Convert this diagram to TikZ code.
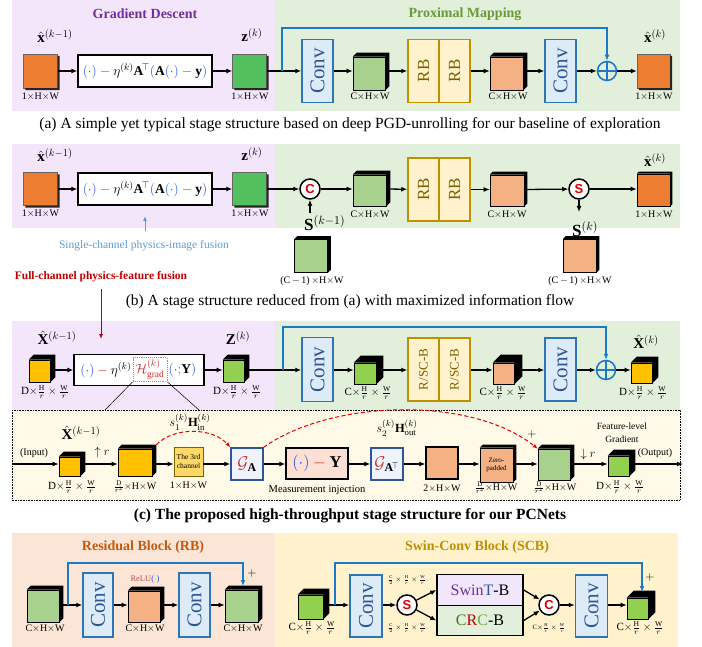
\RequirePackage{fix-cm}
\documentclass[tikz,border=0pt]{standalone}
\usepackage{amsmath,amssymb}
\usepackage{fontspec}
\setmainfont{Liberation Serif}
\setsansfont{Liberation Sans}
\usepackage{graphicx}
\usetikzlibrary{arrows.meta}
\definecolor{pbg}{HTML}{F3E6FA}
\definecolor{gbg}{HTML}{E2EFDA}
\definecolor{cbg}{HTML}{FFF9E8}
\definecolor{rbg}{HTML}{FBE5D6}
\definecolor{sbg}{HTML}{FFF2CC}
\definecolor{corange}{HTML}{ED7D31}
\definecolor{cgreen}{HTML}{52C05C}
\definecolor{lgreen}{HTML}{A9D18E}
\definecolor{bgreen}{HTML}{92D050}
\definecolor{salmon}{HTML}{F4B183}
\definecolor{gold}{HTML}{FFC000}
\definecolor{convf}{HTML}{DDEBF7}
\definecolor{convb}{HTML}{2E75B6}
\definecolor{convt}{HTML}{2F5597}
\definecolor{rbf}{HTML}{FFF2CC}
\definecolor{rbb}{HTML}{BF9000}
\definecolor{rbt}{HTML}{7F6000}
\definecolor{skipb}{HTML}{1A7AC8}
\definecolor{fblue}{HTML}{2255EE}
\definecolor{fred}{HTML}{D0302F}
\definecolor{lblue}{HTML}{5B9BD5}
\definecolor{dred}{HTML}{C00000}
\definecolor{tpurple}{HTML}{7030A0}
\definecolor{tgreen}{HTML}{6A9A3A}
\definecolor{torange}{HTML}{C55A11}
\definecolor{tgold}{HTML}{BF9000}
\definecolor{gaf}{HTML}{EEF2FA}
\definecolor{gab}{HTML}{2F5597}
\definecolor{mfill}{HTML}{FBE0D3}
\definecolor{thirdf}{HTML}{FFD966}
\definecolor{swinf}{HTML}{F2E6FA}
\definecolor{crcf}{HTML}{E2EFDA}
\definecolor{crcA}{HTML}{3A7D22}
\definecolor{crcC}{HTML}{70AD47}
\definecolor{relured}{HTML}{C0504D}
\newcommand\mkcube[2]{\fill[black] (#1.north west) -- ([shift={(#2,-#2)}]#1.north west) -- ([shift={(#2,-#2)}]#1.north east) -- ([shift={(#2,-#2)}]#1.south east) -- (#1.south east) -- (#1.north east) -- cycle;}
\newcommand\mkshadow[1]{\fill[black!85] ([shift={(0,2)}]#1.north east) -- ([shift={(2,2)}]#1.north east) -- ([shift={(2,2)}]#1.south east) -- ([shift={(2,2)}]#1.south west) -- ([shift={(2,0)}]#1.south west) -- (#1.south east) -- cycle;}
\newcommand\fgradA{${\color{fblue}(\cdot)}\mathbin{\color{fred}-}\eta^{(k)}\mathbf{A}^{\!\top}{\color{fblue}(}\mathbf{A}{\color{fblue}(\cdot)}\mathbin{\color{fred}-}\mathbf{y}{\color{fblue})}$}
\newcommand\dimA{1$\times$H$\times$W}
\newcommand\dimC{C$\times$H$\times$W}
\newcommand\dimF[1]{#1$\times\frac{\mathrm{H}}{r}\times\frac{\mathrm{W}}{r}$}
\newcommand\dimR{$\frac{\mathrm{D}}{r^2}$$\times$H$\times$W}
\tikzset{
 arr/.style={-{Latex[length=6pt,width=5pt]}, line width=1.3pt},
 ln/.style={line width=1.3pt},
 skipl/.style={draw=skipb, line width=1.6pt, -{Latex[length=6pt,width=5pt]}},
 convbox/.style={draw=convb, fill=convf, line width=1.5pt, minimum width=31pt, minimum height=63pt, inner sep=0pt, text=convt, font=\fontsize{21}{21}\selectfont},
 rbbox/.style={draw=rbb, fill=rbf, line width=1.5pt, minimum width=31pt, minimum height=63pt, inner sep=0pt, text=rbt, font=\fontsize{17}{17}\selectfont},
 fmbox/.style={draw=black, fill=white, line width=1.3pt, minimum width=134pt, minimum height=32pt, inner sep=0pt, font=\fontsize{13.5}{15}\selectfont},
 ftext/.style={inner sep=0pt, font=\fontsize{13.5}{15}\selectfont},
 hdot/.style={draw=corange, densely dotted, line width=0.9pt, minimum width=34pt, minimum height=24pt, inner sep=1pt, font=\fontsize{13.5}{15}\selectfont},
 sq/.style={draw=black!60, line width=0.4pt, fill=#1, inner sep=0pt},
 cube/.style={draw=black, line width=0.6pt, fill=#1, inner sep=0pt},
 lab/.style={inner sep=0pt, font=\fontsize{15}{17}\selectfont},
 slab/.style={inner sep=0pt, font=\fontsize{17}{19}\selectfont},
 dim/.style={inner sep=0pt, font=\fontsize{10}{11}\selectfont},
 fdim/.style={inner sep=0pt, font=\fontsize{11}{12}\selectfont},
 sdim/.style={inner sep=0pt, font=\fontsize{6.5}{7}\selectfont},
 ttl/.style={inner sep=0pt, font=\bfseries\fontsize{14}{16}\selectfont},
 capt/.style={inner sep=0pt, font=\fontsize{15.5}{17}\selectfont},
 plusc/.style={circle, draw=skipb, line width=1.5pt, minimum size=19pt, inner sep=0pt},
 opc/.style={circle, draw=black, line width=1.5pt, fill=white, minimum size=20pt, inner sep=0pt, text=red!85!black, font=\sffamily\bfseries\fontsize{13}{13}\selectfont},
 gbox/.style={draw=gab, fill=gaf, line width=1.4pt, minimum size=32pt, inner sep=0pt, font=\fontsize{17}{17}\selectfont},
 mbox/.style={draw=black, fill=mfill, line width=1.4pt, minimum width=62pt, minimum height=31pt, inner sep=0pt, font=\fontsize{16.5}{16.5}\selectfont},
 thirdbox/.style={draw=rbt, fill=thirdf, line width=0.8pt, minimum size=29pt, inner sep=0pt, align=center, font=\fontsize{7.5}{9}\selectfont},
 blkbox/.style={draw=black, line width=1.4pt, minimum width=86pt, minimum height=30.5pt, inner sep=0pt, font=\fontsize{16}{16}\selectfont},
 reddash/.style={draw=red!90!black, line width=1pt, dash pattern=on 4pt off 2.5pt, -{Latex[length=5pt,width=4pt]}},
}
\begin{document}
\begin{tikzpicture}[x=1pt,y=-1pt]
\useasboundingbox (0,0) rectangle (702,647);
% backgrounds
\fill[pbg] (12,0) rectangle (275,111);
\fill[gbg] (275,0) rectangle (680,111);
\fill[pbg] (12,144) rectangle (275,228);
\fill[gbg] (275,144) rectangle (680,228);
\fill[pbg] (12,321) rectangle (275,410);
\fill[gbg] (275,321) rectangle (680,410);
\filldraw[fill=cbg, draw=black, densely dotted, line width=0.6pt] (12,410) rectangle (680,500);
\fill[rbg] (12,533) rectangle (275,647);
\fill[sbg] (275,533) rectangle (678,647);

% ===== row (a)
\node[ttl,text=tpurple] (tgd) at (145,14) {Gradient Descent};
\node[ttl,text=tgreen] (tpm) at (465,14) {Proximal Mapping};
\node[sq=corange, minimum width=34pt, minimum height=34pt] (a1) at (40.5,71) {};
\mkshadow{a1}
\node[lab] (a1t) at (55,36) {$\hat{\mathbf{x}}^{(k-1)}$};
\node[dim] (a1d) at (40.5,97) {\dimA};
\node[fmbox] (af) at (145,71) {\fgradA};
\node[sq=cgreen, minimum width=34pt, minimum height=34pt] (a2) at (249.5,71) {};
\mkshadow{a2}
\node[lab] (a2t) at (252,35) {$\mathbf{z}^{(k)}$};
\node[dim] (a2d) at (250,97) {\dimA};
\coordinate (aj) at (282,71);
\node[convbox] (ac1) at (317.5,71) {\rotatebox{90}{Conv}};
\node[cube=lgreen, minimum width=32pt, minimum height=33pt] (ag) at (369,73.5) {};
\mkcube{ag}{4}
\node[dim] (agd) at (370,97) {\dimC};
\node[rbbox] (ar1) at (423.5,71) {\rotatebox{90}{RB}};
\node[rbbox] (ar2) at (454.5,71) {\rotatebox{90}{RB}};
\node[cube=salmon, minimum width=33pt, minimum height=33pt] (as) at (506.5,73.5) {};
\mkcube{as}{4}
\node[dim] (asd) at (508,97) {\dimC};
\node[convbox] (ac2) at (560.5,71) {\rotatebox{90}{Conv}};
\node[plusc] (ap) at (607,71) {};
\draw[skipb, line width=1.5pt] (ap.north) -- (ap.south) (ap.west) -- (ap.east);
\node[sq=corange, minimum width=33pt, minimum height=34pt] (a3) at (653.5,71) {};
\mkshadow{a3}
\node[lab] (a3t) at (655,36) {$\hat{\mathbf{x}}^{(k)}$};
\node[dim] (a3d) at (654,97) {\dimA};
\draw[arr] (a1) -- (af);
\draw[arr] (af) -- (a2);
\draw[ln] (a2) -- (aj);
\draw[arr] (aj) -- (ac1);
\draw[arr] (ac1) -- (ac1 -| ag.west);
\draw[arr] (ac1 -| ag.east) -- (ar1);
\draw[arr] (ar2) -- (ar2 -| as.west);
\draw[arr] (ar2 -| as.east) -- (ac2);
\draw[arr] (ac2) -- (ap);
\draw[arr] (ap) -- (a3);
\draw[skipl] (aj) -- ++(0,-43) -| (ap);
\node[capt] (capa) at (350,125) {(a) A simple yet typical stage structure based on deep PGD-unrolling for our baseline of exploration};

% ===== row (b)
\node[sq=corange, minimum width=34pt, minimum height=33pt] (b1) at (40.5,189) {};
\mkshadow{b1}
\node[lab] (b1t) at (55,155) {$\hat{\mathbf{x}}^{(k-1)}$};
\node[dim] (b1d) at (40.5,214) {\dimA};
\node[fmbox] (bf) at (145,189) {\fgradA};
\node[sq=cgreen, minimum width=34pt, minimum height=33pt] (b2) at (249.5,189) {};
\mkshadow{b2}
\node[lab] (b2t) at (252,154) {$\mathbf{z}^{(k)}$};
\node[dim] (b2d) at (250,214) {\dimA};
\node[opc] (bc) at (310,189) {C};
\node[slab,anchor=west] (bskm) at (304,223) {$\mathbf{S}^{(k-1)}$};
\coordinate (bskmt) at (310,213);
\node[cube=lgreen, minimum width=33pt, minimum height=33pt] (b3) at (311,256) {};
\mkcube{b3}{3}
\node[dim] (b3d) at (312,281) {(C$\,-\,$1)$\,\times$H$\times$W};
\node[cube=lgreen, minimum width=33pt, minimum height=31pt] (bg) at (369.5,190.5) {};
\mkcube{bg}{4}
\node[dim] (bgd) at (370,215) {\dimC};
\node[rbbox] (br1) at (423.5,189.5) {\rotatebox{90}{RB}};
\node[rbbox] (br2) at (454.5,189.5) {\rotatebox{90}{RB}};
\node[cube=salmon, minimum width=34pt, minimum height=31pt] (bs) at (507,190.5) {};
\mkcube{bs}{3}
\node[dim] (bsd) at (507,215) {\dimC};
\node[opc] (bS) at (579,189) {S};
\coordinate (bskt) at (579,212);
\node[slab,anchor=west] (bsk) at (572,229) {$\mathbf{S}^{(k)}$};
\node[cube=salmon, minimum width=33pt, minimum height=33pt] (b4) at (579.5,256) {};
\mkcube{b4}{3}
\node[dim] (b4d) at (580,281) {(C$\,-\,$1)$\,\times$H$\times$W};
\node[cube=corange, minimum width=33pt, minimum height=32pt] (b5) at (653.5,190) {};
\mkcube{b5}{2}
\node[lab] (b5t) at (655,160) {$\hat{\mathbf{x}}^{(k)}$};
\node[dim] (b5d) at (654,215) {\dimA};
\draw[arr] (b1) -- (bf);
\draw[arr] (bf) -- (b2);
\draw[arr] (b2) -- (bc);
\draw[arr] (bskmt) -- (bc);
\draw[arr] (bc) -- (bc -| bg.west);
\draw[arr] (bc -| bg.east) -- (br1);
\draw[arr] (br2) -- (br2 -| bs.west);
\draw[arr] (br2 -| bs.east) -- (bS);
\draw[arr] (bS) -- (bS -| b5.west);
\draw[arr] (bS) -- (bskt);
\node[inner sep=0pt, text=lblue, font=\fontsize{11.5}{13}\selectfont] (scl) at (144,246) {Single-channel physics-image fusion};
\coordinate (sca) at (145,231);
\coordinate (scb) at (145,216);
\draw[-{Latex[length=5pt,width=4pt]}, lblue, line width=1pt] (sca) -- (scb);
\node[inner sep=0pt, text=dred, font=\bfseries\fontsize{11.5}{13}\selectfont] (fcl) at (101,277) {Full-channel physics-feature fusion};
\coordinate (fca) at (101,289);
\coordinate (fcb) at (101,339);
\draw[-{Latex[length=5pt,width=4pt]}, dred, line width=1pt] (fca) -- (fcb);
\node[capt] (capb) at (350,302) {(b) A stage structure reduced from (a) with maximized information flow};

% ===== row (c) top
\node[cube=gold, minimum width=21pt, minimum height=22pt] (c1) at (39.5,371) {};
\mkcube{c1}{5}
\node[lab] (c1t) at (57,338) {$\hat{\mathbf{X}}^{(k-1)}$};
\node[fdim] (c1d) at (45,392) {\dimF{D}};
\node[fmbox, minimum width=130pt, minimum height=31pt] (cf) at (139,370) {};
\node[ftext, anchor=east] (cfl) at (131.5,370) {${\color{fblue}(\cdot)}\mathbin{\color{fred}-}\eta^{(k)}$};
\node[hdot] (cfh) at (150,369.5) {$\color{fred}\mathcal{H}^{(k)}_{\mathrm{grad}}$};
\node[ftext, anchor=west] (cfr) at (168.5,370) {${\color{fblue}(\cdot;}\mathbf{Y}{\color{fblue})}$};
\node[cube=bgreen, minimum width=21pt, minimum height=22pt] (c2) at (233.5,371) {};
\mkcube{c2}{5}
\node[lab] (c2t) at (238,338) {$\mathbf{Z}^{(k)}$};
\node[fdim] (c2d) at (237,392) {\dimF{D}};
\coordinate (cj) at (283,370);
\node[convbox, minimum height=64pt] (cc1) at (317.5,369.5) {\rotatebox{90}{Conv}};
\node[cube=bgreen, minimum width=22pt, minimum height=21pt] (c3) at (365,373.5) {};
\mkcube{c3}{7}
\node[fdim] (c3d) at (368,393) {\dimF{C}};
\node[rbbox, font=\fontsize{13}{13}\selectfont] (cr1) at (423.5,369.5) {\rotatebox{90}{R/SC-B}};
\node[rbbox, font=\fontsize{13}{13}\selectfont] (cr2) at (454.5,369.5) {\rotatebox{90}{R/SC-B}};
\node[cube=salmon, minimum width=21pt, minimum height=21pt] (c4) at (503.5,373.5) {};
\mkcube{c4}{8}
\node[fdim] (c4d) at (503,393) {\dimF{C}};
\node[convbox] (cc2) at (560.5,369.5) {\rotatebox{90}{Conv}};
\node[plusc] (cp) at (606,370) {};
\draw[skipb, line width=1.5pt] (cp.north) -- (cp.south) (cp.west) -- (cp.east);
\node[cube=gold, minimum width=21pt, minimum height=20pt] (c5) at (641.5,373) {};
\mkcube{c5}{6}
\node[lab] (c5t) at (646,342) {$\hat{\mathbf{X}}^{(k)}$};
\node[fdim] (c5d) at (643,393) {\dimF{D}};
\draw[arr] (c1.east |- cf) -- (cf);
\draw[arr] (cf) -- (cf -| c2.west);
\draw[ln] (c2.east |- cj) -- (cj);
\draw[arr] (cj) -- (cj -| cc1.west);
\draw[arr] (cc1.east |- cj) -- (cj -| c3.west);
\draw[arr] (c3.east |- cj) -- (cj -| cr1.west);
\draw[arr] (cr2.east |- cj) -- (cj -| c4.west);
\draw[arr] (c4.east |- cj) -- (cj -| cc2.west);
\draw[arr] (cc2.east |- cj) -- (cp);
\draw[arr] (cp) -- (cp -| c5.west);
\draw[skipl] (cj) -- ++(0,-43) -| (cp);
\coordinate (dl) at (105,410);
\coordinate (dr) at (199,410);
\draw[line width=0.5pt] (cfh.south west) -- (dl) (cfh.south east) -- (dr);

% ===== row (c) bottom
\coordinate (in0) at (12,464);
\node[inner sep=0pt, font=\fontsize{10}{11}\selectfont] (inl) at (34,453) {(Input)};
\node[cube=gold, minimum width=21pt, minimum height=19pt] (d1) at (69.5,466.5) {};
\mkcube{d1}{5}
\node[lab] (d1t) at (81,433) {$\hat{\mathbf{X}}^{(k-1)}$};
\node[fdim] (d1d) at (72,487) {\dimF{D}};
\node[inner sep=0pt, font=\fontsize{12}{12}\selectfont] (upr) at (102,452) {$\uparrow r$};
\node[cube=gold, minimum width=34pt, minimum height=27pt] (d2) at (135,462.5) {};
\mkcube{d2}{4}
\node[dim] (d2d) at (135,487) {\dimR};
\node[thirdbox] (d3) at (188.5,461.5) {The 3rd\\channel};
\node[dim] (d3d) at (188.5,486) {\dimA};
\node[gbox] (d4) at (247,464) {$\color{fred}\mathcal{G}_{\color{black}\mathbf{A}}$};
\node[mbox] (d5) at (317,463.5) {${\color{fblue}(\cdot)}\mathbin{\color{fred}-}\mathbf{Y}$};
\node[inner sep=0pt, font=\fontsize{10.5}{12}\selectfont] (d5d) at (317,490) {Measurement injection};
\node[gbox] (d6) at (387,464) {$\color{fred}\mathcal{G}_{\color{black}\mathbf{A}^{\!\top}}$};
\node[sq=salmon, draw=black, line width=1.2pt, minimum width=32pt, minimum height=32pt] (d7) at (442,463) {};
\node[dim] (d7d) at (442,489) {2$\times$H$\times$W};
\node[cube=salmon, minimum width=33pt, minimum height=34pt, align=center, font=\fontsize{7}{8.5}\selectfont] (d8) at (496.5,465) {Zero-\\padded};
\mkcube{d8}{3}
\node[dim] (d8d) at (496,488) {\dimR};
\node[cube=lgreen, minimum width=32pt, minimum height=31pt] (d9) at (554,464.5) {};
\mkcube{d9}{4}
\node[dim] (d9d) at (555,488) {\dimR};
\node[inner sep=0pt, font=\fontsize{12}{12}\selectfont] (plusd) at (532,434) {$+$};
\node[inner sep=0pt, font=\fontsize{12}{12}\selectfont] (dnr) at (588,454) {$\downarrow r$};
\node[cube=bgreen, minimum width=21pt, minimum height=20pt] (d10) at (618.5,466) {};
\mkcube{d10}{6}
\node[fdim] (d10d) at (620,487) {\dimF{D}};
\node[inner sep=0pt, align=center, font=\fontsize{9.5}{13}\selectfont] (flg) at (622,433) {Feature-level\\Gradient};
\node[inner sep=0pt, font=\fontsize{10}{11}\selectfont] (outl) at (655,453) {(Output)};
\coordinate (out0) at (683,464);
\draw[arr] (in0) -- (in0 -| d1.west);
\draw[arr] (d1.east |- in0) -- (in0 -| d2.west);
\draw[arr] (d2.east |- in0) -- (in0 -| d3.west);
\draw[arr] (d3.east |- in0) -- (in0 -| d4.west);
\draw[arr] (d4.east |- in0) -- (in0 -| d5.west);
\draw[arr] (d5.east |- in0) -- (in0 -| d6.west);
\draw[arr] (d6.east |- in0) -- (in0 -| d7.west);
\draw[arr] (d7.east |- in0) -- (in0 -| d8.west);
\draw[arr] (d8.east |- in0) -- (in0 -| d9.west);
\draw[arr] (d9.east |- in0) -- (in0 -| d10.west);
\draw[arr] (d10.east |- in0) -- (out0);
\draw[reddash] ([shift={(4,-4)}]d2.north east) .. controls (175,426) and (213,428) .. (d4.north west);
\draw[reddash] (d4.north east) .. controls (330,400) and (470,395) .. (d9.north west);
\node[inner sep=0pt, font=\fontsize{12.5}{14}\selectfont] (s1l) at (190,422) {$s_1^{(k)}\mathbf{H}_{\mathrm{in}}^{(k)}$};
\node[inner sep=0pt, font=\fontsize{12.5}{14}\selectfont] (s2l) at (397,428) {$s_2^{(k)}\mathbf{H}_{\mathrm{out}}^{(k)}$};
\node[capt, font=\bfseries\fontsize{15.5}{17}\selectfont] (capc) at (350,516) {(c) The proposed high-throughput stage structure for our PCNets};

% ===== row (d) residual block
\node[ttl, text=torange] (trb) at (143,547) {Residual Block (RB)};
\node[cube=lgreen, minimum width=32pt, minimum height=32pt] (e1) at (43,606) {};
\mkcube{e1}{4}
\node[dim] (e1d) at (45,629) {\dimC};
\coordinate (ej) at (68,605);
\node[convbox, minimum width=30pt, minimum height=64pt] (ec1) at (98,605) {\rotatebox{90}{Conv}};
\node[cube=salmon, minimum width=32pt, minimum height=31pt] (e2) at (144,606.5) {};
\mkcube{e2}{4}
\node[inner sep=0pt, font=\fontsize{8.5}{9}\selectfont] (e2t) at (145,579) {{\color{relured}ReLU}{\color{fblue}($\cdot$)}};
\node[dim] (e2d) at (145,629) {\dimC};
\node[convbox, minimum height=64pt] (ec2) at (194.5,605) {\rotatebox{90}{Conv}};
\node[cube=lgreen, minimum width=33pt, minimum height=32pt] (e3) at (241.5,606) {};
\mkcube{e3}{4}
\node[dim] (e3d) at (243,629) {\dimC};
\node[inner sep=0pt, font=\fontsize{12}{12}\selectfont] (e3p) at (252,573) {$+$};
\coordinate (e3top) at (243,586);
\draw[ln] (e1.east |- ej) -- (ej);
\draw[arr] (ej) -- (ej -| ec1.west);
\draw[arr] (ec1.east |- ej) -- (ej -| e2.west);
\draw[arr] (e2.east |- ej) -- (ej -| ec2.west);
\draw[arr] (ec2.east |- ej) -- (ej -| e3.west);
\draw[skipl] (ej) -- ++(0,-42) -| (e3top);

% ===== row (d) swin-conv block
\node[ttl, text=tgold] (tscb) at (477,547) {Swin-Conv Block (SCB)};
\node[cube=bgreen, minimum width=25pt, minimum height=24pt] (f1) at (310.5,607) {};
\mkcube{f1}{6}
\node[fdim] (f1d) at (312,628) {\dimF{C}};
\coordinate (fj) at (335,605);
\node[convbox, minimum width=32pt, minimum height=62pt] (fc1) at (366,606) {\rotatebox{90}{Conv}};
\node[opc] (fS) at (407,605) {S};
\node[sdim] (fSa) at (407,580) {$\frac{\mathrm{C}}{2}\times\frac{\mathrm{H}}{r}\times\frac{\mathrm{W}}{r}$};
\node[sdim] (fSb) at (407,628) {$\frac{\mathrm{C}}{2}\times\frac{\mathrm{H}}{r}\times\frac{\mathrm{W}}{r}$};
\node[blkbox, fill=swinf] (fw) at (480,590) {{\color{tpurple}Swin}{\color{convt}T}-B};
\node[blkbox, fill=crcf] (fr) at (480,620.5) {{\color{crcA}C}{\color{dred}R}{\color{crcC}C}-B};
\node[opc] (fC) at (549,605) {C};
\node[sdim] (fCd) at (549,628) {\dimF{C}};
\node[convbox, minimum width=32pt, minimum height=62pt] (fc2) at (591.5,606) {\rotatebox{90}{Conv}};
\node[cube=bgreen, minimum width=21pt, minimum height=21pt] (f2) at (637.5,608.5) {};
\mkcube{f2}{7}
\node[fdim] (f2d) at (640,628) {\dimF{C}};
\node[inner sep=0pt, font=\fontsize{12}{12}\selectfont] (f2p) at (650,577) {$+$};
\coordinate (f2top) at (642,592);
\draw[ln] (f1.east |- fj) -- (fj);
\draw[arr] (fj) -- (fj -| fc1.west);
\draw[arr] (fc1.east |- fS) -- (fS);
\draw[arr] (fS) -- (fw.west);
\draw[arr] (fS) -- (fr.west);
\draw[arr] (fw.east) -- (fC);
\draw[arr] (fr.east) -- (fC);
\draw[arr] (fC) -- (fC -| fc2.west);
\draw[arr] (fc2.east |- fC) -- (fC -| f2.west);
\draw[skipl] (fj) -- ++(0,-42) -| (f2top);
\end{tikzpicture}
\end{document}
